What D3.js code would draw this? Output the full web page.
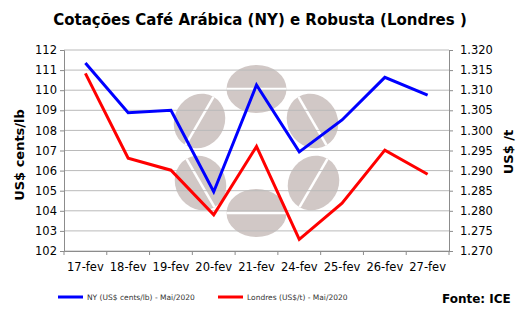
<!DOCTYPE html>
<html>
<head>
<meta charset="utf-8">
<script src="https://cdn.jsdelivr.net/npm/d3@7"></script>
<style>
  body { margin: 0; background: #fff; }
  text { font-family: "DejaVu Sans", Verdana, sans-serif; }
</style>
</head>
<body>
<div id="chart"></div>
<script>
// datas e cotações
const dates = ["17-fev", "18-fev", "19-fev", "20-fev", "21-fev", "24-fev", "25-fev", "26-fev", "27-fev"];
const nyValues = [111.35, 108.88, 109.0, 104.95, 110.26, 106.93, 108.52, 110.64, 109.75];
const londresValues = [1.3142, 1.2931, 1.2901, 1.2790, 1.2960, 1.2729, 1.2819, 1.2951, 1.2891];
const leftTicks = [102, 103, 104, 105, 106, 107, 108, 109, 110, 111, 112];
const rightTicks = [1.270, 1.275, 1.280, 1.285, 1.290, 1.295, 1.300, 1.305, 1.310, 1.315, 1.320];

const width = 523, height = 313;
const m = { left: 64, right: 449, top: 50, bottom: 251 };

const svg = d3.select("#chart").append("svg")
    .attr("width", width)
    .attr("height", height);

const x = d3.scaleBand().domain(dates).range([m.left, m.right]);
const yL = d3.scaleLinear().domain([102, 112]).range([m.bottom, m.top]);
const yR = d3.scaleLinear().domain([1.270, 1.320]).range([m.bottom, m.top]);

// marca d'agua (grãos de café)
const beanColor = "#d1c8c6";
const cx = (m.left + m.right) / 2, cy = 151;
const beans = [
    { dx: 0, dy: -62, rx: 30, ry: 24, rot: 0 },
    { dx: 0, dy: 62, rx: 30, ry: 24, rot: 0 },
    { dx: -57, dy: -30, rx: 25, ry: 28, rot: 30 },
    { dx: 56, dy: -30, rx: 25, ry: 28, rot: -30 },
    { dx: -56, dy: 32, rx: 25, ry: 28, rot: -30 },
    { dx: 57, dy: 32, rx: 25, ry: 28, rot: 30 }
];
const bg = svg.append("g");
beans.forEach(b => {
    const g = bg.append("g")
        .attr("transform", `translate(${cx + b.dx},${cy + b.dy}) rotate(${b.rot})`);
    g.append("ellipse").attr("rx", b.rx).attr("ry", b.ry).attr("fill", beanColor);
    if (b.rot === 0) {
        g.append("line").attr("x1", -b.rx).attr("x2", b.rx).attr("y1", 0).attr("y2", 0)
            .attr("stroke", "#fff").attr("stroke-width", 2.5);
    } else {
        g.append("line").attr("x1", 0).attr("x2", 0).attr("y1", -b.ry).attr("y2", b.ry)
            .attr("stroke", "#fff").attr("stroke-width", 2.5);
    }
});

// grade
svg.append("g").selectAll("line").data(leftTicks).join("line")
    .attr("x1", m.left).attr("x2", m.right)
    .attr("y1", d => yL(d)).attr("y2", d => yL(d))
    .attr("stroke", "#bababa").attr("stroke-width", 1);

// eixos
const axisColor = "#8c8c8c";
const gL = svg.append("g").attr("transform", `translate(${m.left},0)`)
    .call(d3.axisLeft(yL).tickValues(leftTicks).tickSize(4).tickPadding(3).tickFormat(d3.format("d")));
const gR = svg.append("g").attr("transform", `translate(${m.right},0)`)
    .call(d3.axisRight(yR).tickValues(rightTicks).tickSize(4).tickPadding(7).tickFormat(d => d.toFixed(3)));
const gX = svg.append("g").attr("transform", `translate(0,${m.bottom})`)
    .call(d3.axisBottom(x).tickSize(0).tickPadding(12));
gX.append("g").selectAll("line").data(d3.range(dates.length + 1)).join("line")
    .attr("x1", i => m.left + i * x.step()).attr("x2", i => m.left + i * x.step())
    .attr("y1", 0).attr("y2", 4).attr("stroke", axisColor);

[gL, gR, gX].forEach(g => {
    g.select(".domain").attr("stroke", axisColor);
    g.selectAll(".tick line").attr("stroke", axisColor);
    g.selectAll("text").attr("fill", "#000").attr("font-size", 11.5)
        .attr("font-family", "Tahoma, 'DejaVu Sans', Verdana, sans-serif");
});

// linhas
const lineNY = d3.line().x((d, i) => x(dates[i]) + x.bandwidth() / 2).y(d => yL(d));
const lineLd = d3.line().x((d, i) => x(dates[i]) + x.bandwidth() / 2).y(d => yR(d));
svg.append("path").datum(londresValues).attr("d", lineLd)
    .attr("fill", "none").attr("stroke", "#ff0000").attr("stroke-width", 3);
svg.append("path").datum(nyValues).attr("d", lineNY)
    .attr("fill", "none").attr("stroke", "#0000ff").attr("stroke-width", 3);

// títulos
svg.append("text").attr("x", 260).attr("y", 25).attr("text-anchor", "middle")
    .attr("font-size", 15).attr("font-weight", "bold")
    .text("Cotações Café Arábica (NY) e Robusta (Londres )");
svg.append("text").attr("transform", `translate(24,155) rotate(-90)`)
    .attr("text-anchor", "middle").attr("font-size", 13).attr("font-weight", "bold")
    .text("US$ cents/lb");
svg.append("text").attr("transform", `translate(513,152) rotate(-90)`)
    .attr("text-anchor", "middle").attr("font-size", 13).attr("font-weight", "bold")
    .text("US$ /t");

// legenda
const legend = [
    { name: "NY (US$ cents/lb) - Mai/2020", color: "#0000ff", x: 58 },
    { name: "Londres (US$/t) - Mai/2020", color: "#ff0000", x: 218 }
];
const lg = svg.append("g").selectAll("g").data(legend).join("g")
    .attr("transform", d => `translate(${d.x},297)`);
lg.append("line").attr("x1", 0).attr("x2", 25).attr("stroke", d => d.color).attr("stroke-width", 3);
lg.append("text").attr("x", 29).attr("dy", 3).attr("font-size", 7.5).attr("fill", "#333")
    .text(d => d.name);

svg.append("text").attr("x", 442).attr("y", 303).attr("font-size", 12).attr("font-weight", "bold")
    .text("Fonte: ICE");
</script>
</body>
</html>
